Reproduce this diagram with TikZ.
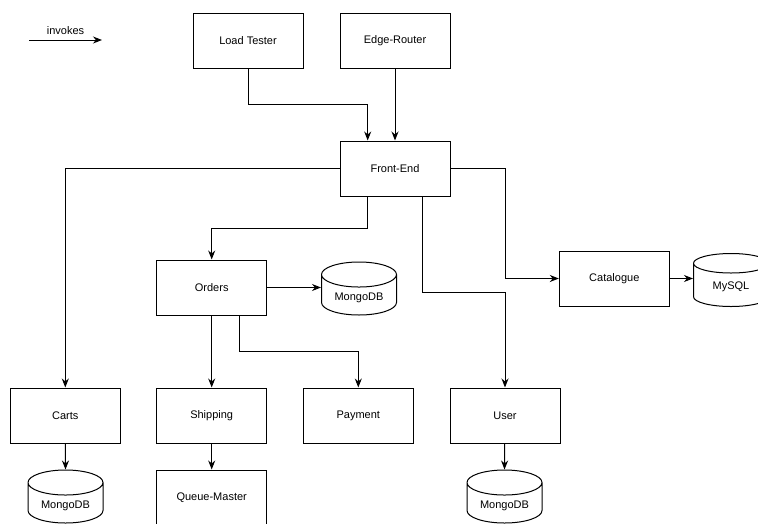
\documentclass[tikz,border=0pt]{standalone}
\usepackage{fontspec}
\setmainfont{Liberation Sans}
\usetikzlibrary{shapes.geometric,arrows.meta}

\begin{document}
\begin{tikzpicture}[x=1pt,y=-1pt,
    every node/.style={font=\fontsize{11}{13}\selectfont},
    svc/.style={draw,line width=1pt,minimum width=110pt,minimum height=55pt},
    db/.style={draw,line width=1pt,cylinder,shape border rotate=90,aspect=0.45,minimum width=75pt,minimum height=53pt,anchor=shape center},
    inv/.style={line width=1pt,-{Stealth[length=9pt,width=7pt]}}]
    \useasboundingbox (0,0) rectangle (758,523);
    \coordinate (k1) at (29,40);
    \coordinate (k2) at (102,40);
    \node[svc] (lt) at (248,40.5) {Load Tester};
    \node[svc] (er) at (395,40.5) {Edge-Router};
    \node[svc] (fe) at (395,168.5) {Front-End};
    \node[svc] (ord) at (211.7,287.5) {Orders};
    \node[db] (db1) at (359,288.5) {MongoDB};
    \node[svc] (cat) at (614.3,278.5) {Catalogue};
    \node[db] (sql) at (731,280) {MySQL};
    \node[svc] (carts) at (65.3,415.5) {Carts};
    \node[svc] (ship) at (211.7,415.5) {Shipping};
    \node[svc] (pay) at (358.3,415.5) {Payment};
    \node[svc] (user) at (505,415.5) {User};
    \node[db] (db2) at (65.5,496.5) {MongoDB};
    \node[svc] (qm) at (211.7,497.5) {Queue-Master};
    \node[db] (db3) at (504.5,496.5) {MongoDB};
    \draw[inv] (k1) -- node[above=2pt] {invokes} (k2);
    \draw[inv] (lt.south) -- ++(0,35.5) -| ([xshift=-27.3pt]fe.north);
    \draw[inv] (er) -- (fe);
    \draw[inv] ([xshift=-27.3pt]fe.south) -- ++(0,32) -| (ord.north);
    \draw[inv] (fe.west) -| (carts.north);
    \draw[inv] (fe.east) -- ++(55,0) |- (cat.west);
    \draw[inv] ([xshift=27.7pt]fe.south) -- ++(0,96) -| (user.north);
    \draw[inv] (ord.east) -- (ord.east -| db1.west);
    \draw[inv] (cat.east) -- (cat.east -| sql.west);
    \draw[inv] (ord) -- (ship);
    \draw[inv] ([xshift=27.6pt]ord.south) -- ++(0,36) -| (pay.north);
    \draw[inv] (carts) -- (db2.top);
    \draw[inv] (ship) -- (qm);
    \draw[inv] (user) -- (db3.top);
\end{tikzpicture}
\end{document}
